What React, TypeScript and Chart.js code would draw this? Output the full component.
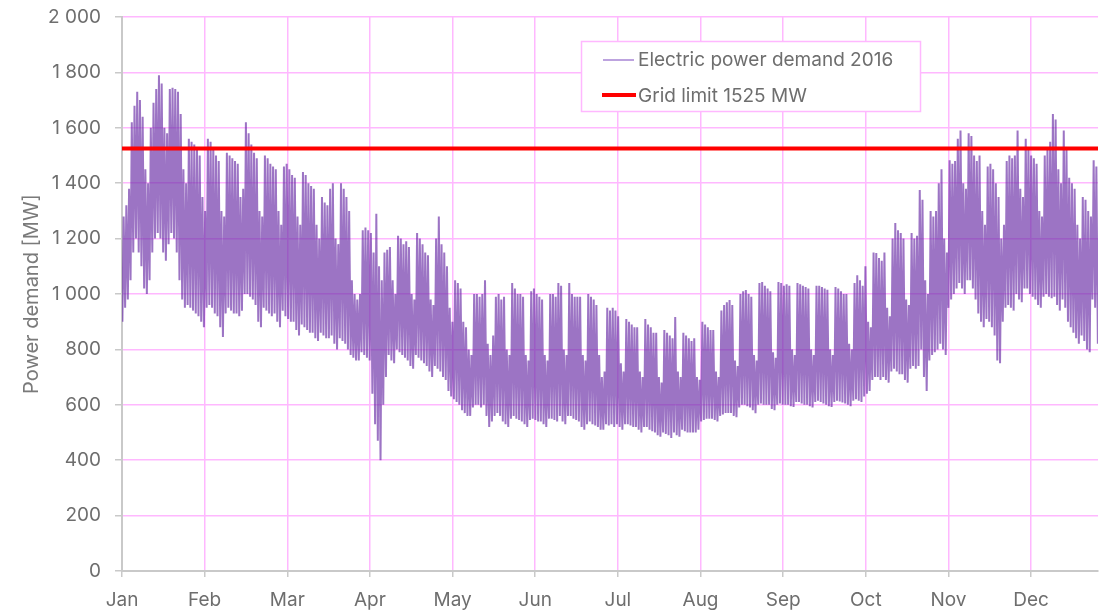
import { useEffect, useRef } from 'react';
import { Chart, registerables } from 'chart.js';

Chart.register(...registerables);

// Month tick labels (ticks every 730 hours = 30.4167 days)
const monthLabels = ['Jan', 'Feb', 'Mar', 'Apr', 'May', 'Jun', 'Jul', 'Aug', 'Sep', 'Oct', 'Nov', 'Dec'];

const demandLabel = 'Electric power demand 2016';
const limitLabel = 'Grid limit 1525 MW';
const gridLimit = 1525;

// Daily peak demand [MW], day 0 = Fri 1 Jan 2016; rows of 7 days (Fri..Thu)
const dailyHigh = [
  1280, 1320, 1380, 1620, 1680, 1730, 1700,
  1640, 1450, 1400, 1600, 1690, 1740, 1790,
  1760, 1600, 1580, 1740, 1745, 1740, 1730,
  1650, 1450, 1400, 1560, 1550, 1540, 1520,
  1500, 1350, 1300, 1560, 1550, 1530, 1500,
  1480, 1300, 1280, 1510, 1500, 1490, 1480,
  1470, 1350, 1380, 1620, 1580, 1540, 1510,
  1490, 1300, 1280, 1500, 1490, 1470, 1460,
  1450, 1300, 1250, 1460, 1470, 1450, 1430,
  1420, 1280, 1250, 1440, 1430, 1400, 1390,
  1380, 1250, 1200, 1350, 1330, 1320, 1380,
  1400, 1200, 1180, 1400, 1380, 1350, 1300,
  1050, 1000, 980, 1000, 1230, 1240, 1230,
  1220, 1150, 1290, 1100, 1050, 1150, 1160,
  1170, 1050, 1000, 1210, 1200, 1180, 1190,
  1170, 1000, 980, 1220, 1200, 1180, 1150,
  1140, 980, 960, 1200, 1280, 1180, 1150,
  1100, 950, 900, 1050, 1040, 1020, 900,
  880, 800, 780, 1000, 1000, 990, 1000,
  1050, 820, 780, 850, 990, 1000, 980,
  990, 800, 780, 1040, 1020, 1000, 1000,
  990, 780, 760, 1010, 1020, 1000, 990,
  980, 780, 760, 1000, 1000, 990, 1040,
  1030, 800, 780, 1040, 1000, 990, 990,
  990, 780, 760, 1000, 990, 980, 960,
  780, 700, 720, 950, 940, 950, 940,
  920, 750, 720, 910, 900, 890, 880,
  880, 720, 700, 910, 890, 880, 860,
  860, 700, 680, 870, 860, 850, 840,
  917, 720, 700, 860, 850, 840, 830,
  840, 700, 690, 900, 890, 880, 870,
  870, 720, 700, 940, 960, 970, 978,
  960, 760, 740, 1000, 1010, 1014, 1000,
  990, 780, 760, 1040, 1043, 1030, 1020,
  1010, 790, 770, 1043, 1040, 1030, 1035,
  1030, 800, 780, 1040, 1035, 1030, 1025,
  1020, 800, 780, 1030, 1030, 1025, 1020,
  1015, 800, 780, 1025, 1020, 1010, 1000,
  1000, 820, 800, 1040, 1068, 1050, 1030,
  1100, 900, 880, 1150, 1148, 1130, 1120,
  1150, 950, 920, 1200, 1256, 1230, 1220,
  1200, 980, 960, 1220, 1200, 1210, 1375,
  1340, 1050, 1000, 1300, 1280, 1300, 1400,
  1450, 1200, 1150, 1483, 1470, 1480, 1560,
  1590, 1400, 1380, 1580, 1570, 1500, 1480,
  1500, 1300, 1250, 1460, 1470, 1450, 1400,
  1350, 1200, 1250, 1480, 1500, 1490, 1500,
  1590, 1380, 1350, 1560, 1530, 1500, 1490,
  1470, 1300, 1280, 1500, 1520, 1550, 1650,
  1630, 1450, 1400, 1590, 1520, 1420, 1400,
  1380, 1250, 1200, 1350, 1340, 1300, 1280,
  1483, 1460, 1200,
];

// Daily minimum demand [MW], same day order
const dailyLow = [
  900, 950, 980, 1050, 1150, 1200, 1150,
  1100, 1020, 1000, 1050, 1150, 1200, 1220,
  1200, 1150, 1120, 1180, 1220, 1200, 1150,
  1050, 980, 950, 960, 950, 940, 930,
  920, 900, 880, 950, 960, 950, 930,
  920, 880, 845, 930, 950, 940, 930,
  930, 920, 940, 1000, 1000, 990, 980,
  960, 900, 880, 950, 940, 930, 920,
  930, 900, 880, 940, 920, 910, 900,
  900, 870, 850, 890, 880, 870, 860,
  860, 840, 830, 860, 850, 840, 840,
  850, 820, 800, 840, 830, 820, 800,
  780, 770, 760, 760, 790, 780, 770,
  760, 640, 530, 470, 400, 600, 700,
  780, 760, 750, 800, 790, 780, 770,
  760, 740, 730, 780, 770, 760, 750,
  740, 720, 700, 740, 730, 720, 700,
  690, 650, 630, 620, 610, 600, 580,
  570, 560, 560, 590, 600, 600, 590,
  600, 560, 520, 540, 560, 570, 560,
  540, 530, 520, 550, 560, 550, 545,
  540, 530, 520, 545, 550, 545, 540,
  540, 530, 520, 550, 550, 545, 540,
  560, 540, 530, 560, 560, 550, 545,
  540, 520, 510, 530, 540, 530, 525,
  520, 510, 510, 530, 525, 530, 520,
  530, 520, 510, 530, 530, 525, 520,
  520, 510, 500, 520, 520, 510, 505,
  500, 490, 485, 500, 495, 490, 480,
  500, 490, 485, 510, 505, 500, 500,
  500, 500, 510, 540, 545, 550, 550,
  550, 545, 540, 560, 565, 570, 570,
  570, 560, 555, 590, 600, 600, 595,
  590, 580, 570, 600, 605, 600, 600,
  600, 585, 580, 600, 605, 600, 600,
  600, 595, 592, 610, 610, 605, 600,
  600, 595, 590, 610, 615, 610, 605,
  600, 595, 592, 610, 615, 612, 608,
  605, 600, 595, 615, 620, 615, 610,
  630, 640, 650, 690, 700, 700, 690,
  700, 690, 680, 720, 730, 720, 710,
  710, 690, 680, 730, 740, 730, 740,
  800, 700, 650, 760, 780, 790, 800,
  820, 800, 780, 950, 980, 1000, 1020,
  1040, 1020, 1000, 1050, 1050, 1020, 980,
  930, 900, 880, 910, 900, 880, 850,
  760, 750, 900, 950, 960, 950, 940,
  1000, 980, 970, 1020, 1020, 1000, 990,
  980, 960, 950, 990, 1000, 990, 985,
  990, 960, 940, 980, 950, 900, 880,
  860, 840, 820, 850, 830, 800, 790,
  980, 950, 820,
];

const FONT = 'Inter, "Noto Sans", sans-serif';
const PINK = 'rgb(255, 184, 255)';
const AXIS_GRAY = '#c9c9c9';
const TEXT_GRAY = '#6e6e6e';
const PURPLE = 'rgba(104, 44, 165, 0.66)';
const X_MAX = 359.2;

function formatThousands(v: number): string {
  const s = String(Math.round(v));
  return s.length > 3 ? s.slice(0, s.length - 3) + ' ' + s.slice(-3) : s;
}

export default function App() {
  const canvasRef = useRef<HTMLCanvasElement>(null);

  useEffect(() => {
    const canvas = canvasRef.current;
    if (!canvas) return;

    const demand: { x: number; y: number }[] = [];
    for (let d = 0; d < dailyHigh.length; d++) {
      demand.push({ x: d + 0.15, y: dailyLow[d] });
      demand.push({ x: d + 0.6, y: dailyHigh[d] });
    }
    const limit = [
      { x: 0, y: gridLimit },
      { x: X_MAX, y: gridLimit },
    ];

    const boxLegend = {
      id: 'boxLegend',
      afterDraw(chart: any) {
        const ctx = chart.ctx as CanvasRenderingContext2D;
        const bx = 581, by = 41, bw = 339, bh = 70;
        ctx.save();
        ctx.fillStyle = '#ffffff';
        ctx.fillRect(bx, by, bw, bh);
        ctx.strokeStyle = PINK;
        ctx.lineWidth = 1.5;
        ctx.strokeRect(bx + 0.5, by + 0.5, bw, bh);
        // demand sample
        ctx.strokeStyle = 'rgba(150, 110, 205, 0.85)';
        ctx.lineWidth = 1.5;
        ctx.beginPath();
        ctx.moveTo(603, 60);
        ctx.lineTo(634, 60);
        ctx.stroke();
        // limit sample
        ctx.strokeStyle = '#ff0000';
        ctx.lineWidth = 4;
        ctx.beginPath();
        ctx.moveTo(602, 95);
        ctx.lineTo(636, 95);
        ctx.stroke();
        ctx.fillStyle = TEXT_GRAY;
        ctx.font = `19px ${FONT}`;
        ctx.textBaseline = 'middle';
        ctx.textAlign = 'left';
        ctx.fillText(demandLabel, 638, 60);
        ctx.fillText(limitLabel, 638, 96);
        ctx.restore();
      },
    };

    const chart = new Chart(canvas, {
      type: 'line',
      data: {
        datasets: [
          {
            label: limitLabel,
            data: limit,
            borderColor: '#ff0000',
            borderWidth: 4,
            pointRadius: 0,
            order: 0,
          },
          {
            label: demandLabel,
            data: demand,
            borderColor: PURPLE,
            borderWidth: 2,
            pointRadius: 0,
            tension: 0,
            order: 1,
          },
        ],
      },
      options: {
        animation: false,
        responsive: false,
        maintainAspectRatio: false,
        layout: { padding: { top: 17, right: 7, left: 0, bottom: 0 } },
        plugins: {
          legend: { display: false },
          tooltip: { enabled: false },
        },
        scales: {
          x: {
            type: 'linear',
            min: 0,
            max: X_MAX,
            afterBuildTicks: (scale: any) => {
              scale.ticks = monthLabels.map((_, i) => ({ value: (i * 730) / 24 }));
            },
            afterFit: (scale: any) => {
              scale.height = 42;
            },
            ticks: {
              autoSkip: false,
              maxRotation: 0,
              color: TEXT_GRAY,
              font: { family: FONT, size: 19 },
              padding: 12,
              callback: (_v: any, i: number) => monthLabels[i],
            },
            grid: { color: PINK, lineWidth: 1.5, tickColor: AXIS_GRAY, tickLength: 6 },
            border: { color: AXIS_GRAY, width: 2 },
          },
          y: {
            min: 0,
            max: 2000,
            afterFit: (scale: any) => {
              scale.width = 122;
              scale.paddingTop = 0;
              scale.paddingBottom = 0;
            },
            ticks: {
              stepSize: 200,
              color: TEXT_GRAY,
              font: { family: FONT, size: 19 },
              padding: 14,
              callback: (v: any) => formatThousands(Number(v)),
            },
            grid: { color: PINK, lineWidth: 1.5, tickColor: AXIS_GRAY, tickLength: 7 },
            border: { color: AXIS_GRAY, width: 2 },
            title: {
              display: true,
              text: 'Power demand [MW]',
              color: '#7a7a7a',
              font: { family: FONT, size: 20 },
              padding: { top: 20, bottom: 0 },
            },
          },
        },
      },
      plugins: [boxLegend],
    });

    return () => chart.destroy();
  }, []);

  return (
    <div style={{ position: 'fixed', left: 0, top: 0, width: 1105, height: 613, background: '#fff' }}>
      <canvas ref={canvasRef} width={1105} height={613} />
    </div>
  );
}
